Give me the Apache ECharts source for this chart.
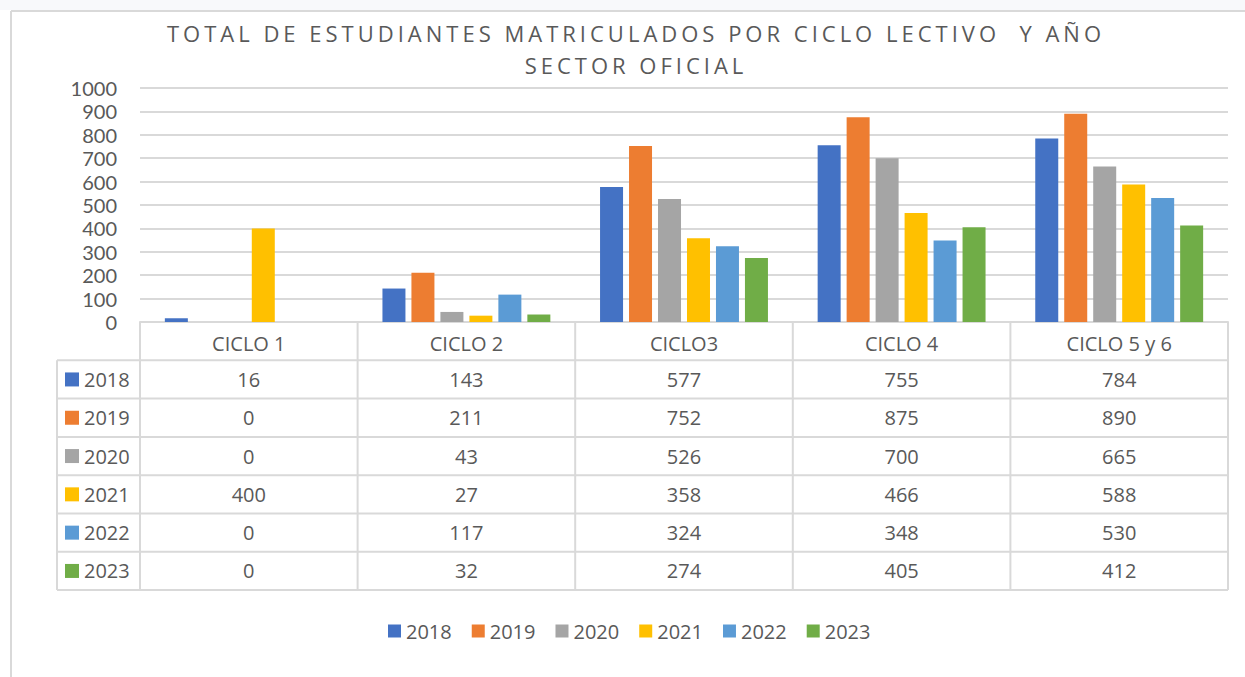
<!DOCTYPE html>
<html>
<head>
<meta charset="utf-8">
<script src="https://cdn.jsdelivr.net/npm/echarts@6/dist/echarts.min.js"></script>
<style>
html, body { margin: 0; padding: 0; background: #fff; }
#main { width: 1245px; height: 677px; }
/* espaciado de letras del título (solo el texto de 22px) */
#main text[style*="22px"] { letter-spacing: 4px; }
</style>
</head>
<body>
<div id="main"></div>
<script>
// datos
var categories = ['CICLO 1', 'CICLO 2', 'CICLO3', 'CICLO 4', 'CICLO 5 y 6'];
var years = ['2018', '2019', '2020', '2021', '2022', '2023'];
var v2018 = [16, 143, 577, 755, 784];
var v2019 = [0, 211, 752, 875, 890];
var v2020 = [0, 43, 526, 700, 665];
var v2021 = [400, 27, 358, 466, 588];
var v2022 = [0, 117, 324, 348, 530];
var v2023 = [0, 32, 274, 405, 412];
var yMin = 0, yMax = 1000, yStep = 100;

var values = [v2018, v2019, v2020, v2021, v2022, v2023];
var colors = ['#4472C4', '#ED7D31', '#A5A5A5', '#FFC000', '#5B9BD5', '#70AD47'];
var txt = '#595959', lineC = '#d9d9d9';
var font = "'Open Sans', sans-serif";
var fontLbl = "Lato, 'Open Sans', sans-serif";

var chart = echarts.init(document.getElementById('main'), null, {renderer: 'svg'});

var series = [];
for (var i = 0; i < years.length; i++) {
	series.push({
		name: years[i],
		type: 'bar',
		barWidth: 23,
		barGap: '26%',
		itemStyle: {color: colors[i]},
		data: values[i]
	});
}

var option = {
	animation: false,
	title: {
		text: 'TOTAL DE ESTUDIANTES MATRICULADOS POR CICLO LECTIVO  Y AÑO\nSECTOR OFICIAL',
		left: 636,
		top: 17,
		padding: 0,
		textAlign: 'center',
		textStyle: {
			fontFamily: font,
			fontSize: 22,
			fontWeight: 'normal',
			color: txt,
			lineHeight: 32
		}
	},
	legend: {
		left: 383,
		top: 616,
		itemWidth: 13,
		itemHeight: 13,
		itemGap: 20,
		icon: 'rect',
		textStyle: {fontFamily: font, fontSize: 20, color: txt},
		data: years
	},
	grid: {left: 140, right: 17, top: 88, bottom: 355},
	xAxis: {
		type: 'category',
		data: categories,
		axisLine: {show: true, lineStyle: {color: lineC, width: 2}},
		axisTick: {show: false},
		axisLabel: {margin: 11, fontFamily: font, fontSize: 20, color: txt}
	},
	yAxis: {
		type: 'value',
		min: yMin,
		max: yMax,
		interval: yStep,
		axisLine: {show: false},
		axisTick: {show: false},
		splitLine: {lineStyle: {color: lineC, width: 2}},
		axisLabel: {
			margin: 23, fontFamily: fontLbl, fontSize: 20, lineHeight: 20, color: txt,
			formatter: function (v) { return String(v); }
		}
	},
	series: series
};
chart.setOption(option);

// tabla de datos bajo el gráfico
var tTop = 322, rowH = 38.3, keyLeft = 57;
var xL = 140, xR = 1228;
var colW = (xR - xL) / categories.length;
var g = [];
// marco
g.push({type: 'rect', shape: {x: 0, y: 0, width: 1245, height: 10}, style: {fill: '#f8f9fb'}, silent: true});
g.push({type: 'line', shape: {x1: 11, y1: 11, x2: 1245, y2: 11}, style: {stroke: lineC, lineWidth: 2}, silent: true});
g.push({type: 'line', shape: {x1: 11, y1: 11, x2: 11, y2: 677}, style: {stroke: lineC, lineWidth: 2}, silent: true});

var tBottom = tTop + rowH * (years.length + 1);
for (var r = 1; r <= years.length + 1; r++) {
	var yy = tTop + rowH * r;
	g.push({type: 'line', shape: {x1: keyLeft, y1: yy, x2: xR, y2: yy}, style: {stroke: lineC, lineWidth: 2}, silent: true});
}
g.push({type: 'line', shape: {x1: keyLeft, y1: tTop + rowH, x2: keyLeft, y2: tBottom}, style: {stroke: lineC, lineWidth: 2}, silent: true});
for (var c = 0; c <= categories.length; c++) {
	var xx = xL + colW * c;
	g.push({type: 'line', shape: {x1: xx, y1: tTop, x2: xx, y2: tBottom}, style: {stroke: lineC, lineWidth: 2}, silent: true});
}
for (var r = 0; r < years.length; r++) {
	var cy = tTop + rowH * (r + 1.5);
	g.push({type: 'rect', shape: {x: 65, y: cy - 7, width: 14, height: 14}, style: {fill: colors[r]}, silent: true});
	g.push({type: 'text', x: 84, y: cy, style: {text: years[r], fill: txt, font: '20px ' + font, textAlign: 'left', textVerticalAlign: 'middle'}, silent: true});
	for (var c = 0; c < categories.length; c++) {
		var cx = chart.convertToPixel({xAxisIndex: 0}, categories[c]);
		g.push({type: 'text', x: cx, y: cy, style: {text: String(values[r][c]), fill: txt, font: '20px ' + font, textAlign: 'center', textVerticalAlign: 'middle'}, silent: true});
	}
}
chart.setOption({graphic: g});
</script>
</body>
</html>
